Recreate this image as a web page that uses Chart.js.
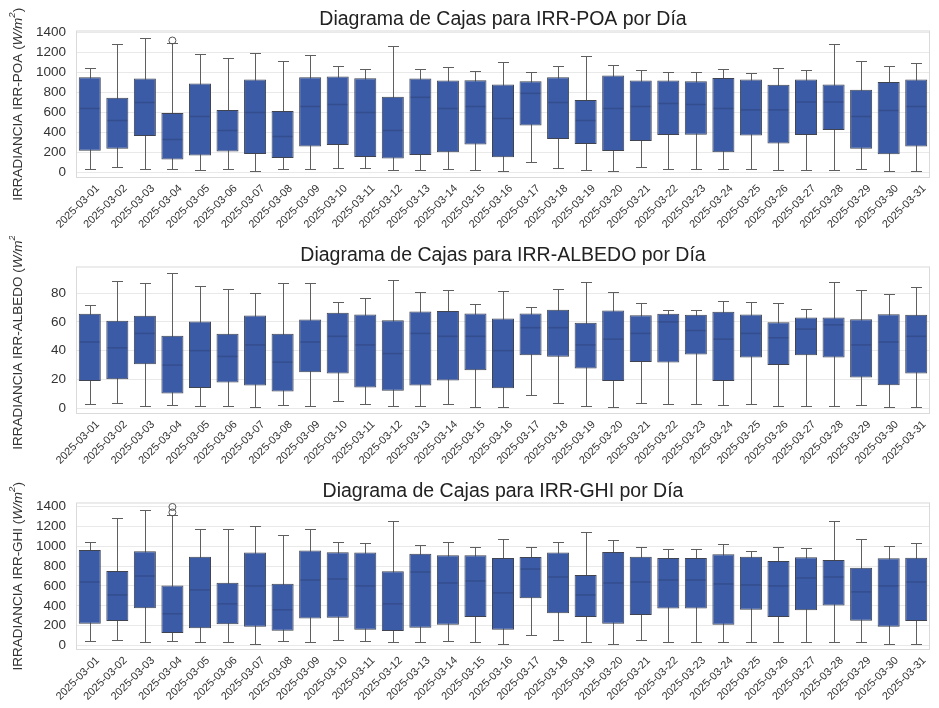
<!DOCTYPE html>
<html>
<head>
<meta charset="utf-8">
<script src="https://cdn.jsdelivr.net/npm/chart.js@4/dist/chart.umd.min.js"></script>
<style>
  body { margin: 0; background: #fff; }
  #wrap { position: relative; width: 939px; height: 708px; }
  canvas { position: absolute; left: 0; }
</style>
</head>
<body>
<div id="wrap">
  <canvas id="poa" width="939" height="236" style="top:0px"></canvas>
  <canvas id="albedo" width="939" height="236" style="top:236px"></canvas>
  <canvas id="ghi" width="939" height="236" style="top:472px"></canvas>
</div>
<script>
var days = [];
for (var d = 1; d <= 31; d++) days.push('2025-03-' + (d < 10 ? '0' + d : d));

// IRR-POA
var poaLow  = [40, 53, 37, 40, 30, 37, 20, 40, 33, 47, 43, 27, 27, 40, 27, 17, 106, 43, 30, 20, 53, 33, 33, 33, 33, 27, 27, 27, 33, 20, 20];
var poaQ1   = [218, 238, 364, 129, 169, 209, 185, 146, 261, 275, 156, 139, 176, 202, 281, 152, 470, 334, 285, 215, 315, 374, 377, 202, 370, 291, 374, 424, 238, 182, 261];
var poaMed  = [640, 520, 700, 330, 560, 420, 600, 360, 660, 680, 600, 420, 752, 640, 660, 540, 791, 700, 520, 640, 660, 690, 680, 640, 626, 626, 705, 705, 560, 620, 660];
var poaQ3   = [953, 748, 940, 596, 890, 626, 930, 616, 953, 960, 943, 758, 940, 920, 923, 881, 913, 953, 725, 970, 920, 920, 913, 946, 930, 877, 930, 881, 827, 906, 930];
var poaHigh = [1043, 1288, 1344, 1295, 1182, 1149, 1198, 1115, 1178, 1065, 1032, 1264, 1032, 1055, 1016, 1102, 1009, 1062, 1168, 1079, 1023, 1006, 1003, 1036, 996, 1043, 1023, 1284, 1119, 1065, 1092];
var poaOut  = [{x: '2025-03-04', y: 1320}];
var poaTicks = [0, 200, 400, 600, 800, 1000, 1200, 1400];

// IRR-ALBEDO
var albLow  = [2.8, 3.5, 1.9, 2.6, 1.4, 1.6, 0.9, 2.6, 1.9, 4.9, 2.8, 1.6, 1.9, 2.8, 1.2, 0.7, 9.0, 3.7, 1.6, 1.2, 3.5, 2.8, 2.8, 2.1, 3.0, 1.9, 1.9, 1.9, 2.3, 0.9, 0.9];
var albQ1   = [19.0, 20.2, 30.6, 10.2, 14.1, 17.9, 15.8, 11.6, 25.0, 24.1, 14.4, 12.1, 15.8, 19.2, 26.4, 13.9, 36.9, 35.7, 27.6, 19.0, 32.2, 31.8, 37.3, 19.0, 35.2, 30.1, 36.9, 35.2, 21.3, 16.0, 24.1];
var albMed  = [46, 42, 52, 30, 40, 36, 44, 32, 46, 50, 44, 38, 52, 50, 50, 40, 56, 56, 44, 48, 52, 60, 54, 48, 52, 49, 55, 58, 44, 46, 50];
var albQ3   = [65.6, 60.8, 64.2, 50.3, 60.3, 51.7, 64.5, 51.7, 61.7, 66.3, 65.2, 61.2, 67.2, 67.5, 65.9, 62.4, 65.9, 68.4, 59.4, 67.9, 64.7, 65.6, 64.9, 67.0, 65.2, 59.8, 63.1, 63.1, 61.9, 65.4, 64.9];
var albHigh = [71.9, 88.6, 87.2, 93.7, 85.1, 83.0, 79.8, 87.2, 87.2, 73.5, 76.5, 89.3, 80.9, 81.9, 72.1, 81.2, 70.5, 83.0, 87.9, 80.9, 73.0, 68.6, 68.6, 74.2, 73.7, 73.0, 68.9, 87.9, 82.3, 79.1, 84.1];
var albOut  = [];
var albTicks = [0, 20, 40, 60, 80];

// IRR-GHI
var ghiLow  = [41, 58, 34, 41, 31, 34, 20, 41, 34, 51, 41, 34, 31, 41, 31, 17, 102, 51, 31, 20, 58, 34, 34, 31, 34, 31, 31, 31, 34, 20, 20];
var ghiQ1   = [219, 246, 376, 126, 174, 215, 188, 150, 273, 280, 160, 147, 178, 208, 287, 160, 475, 324, 287, 219, 307, 372, 372, 208, 359, 287, 355, 403, 249, 188, 246];
var ghiMed  = [640, 510, 700, 320, 560, 420, 600, 360, 660, 670, 600, 420, 740, 630, 650, 530, 770, 690, 510, 630, 640, 660, 660, 620, 610, 600, 680, 690, 540, 600, 640];
var ghiQ3   = [963, 751, 949, 604, 895, 632, 936, 621, 956, 939, 936, 748, 925, 908, 908, 881, 891, 936, 710, 942, 895, 881, 881, 919, 895, 850, 888, 860, 782, 878, 884];
var ghiHigh = [1045, 1280, 1369, 1311, 1175, 1175, 1205, 1117, 1171, 1045, 1028, 1250, 1014, 1038, 997, 1072, 990, 1038, 1140, 1058, 997, 973, 970, 1021, 956, 997, 980, 1253, 1076, 1007, 1031];
var ghiOut  = [{x: '2025-03-04', y: 1340}, {x: '2025-03-04', y: 1395}];
var ghiTicks = [0, 200, 400, 600, 800, 1000, 1200, 1400];

Chart.defaults.font.family = "'Liberation Sans', Arial, sans-serif";
Chart.defaults.color = '#333';

// whiskers, medians and the frame round the plot area
var boxParts = {
  id: 'boxParts',
  beforeDatasetsDraw: function (chart, args, opts) {
    var ctx = chart.ctx, a = chart.chartArea, y = chart.scales.y;
    var meta = chart.getDatasetMeta(0);
    ctx.save();
    ctx.strokeStyle = '#dadada';
    ctx.lineWidth = 1;
    ctx.strokeRect(a.left + 0.5, a.top + 0.5, a.width - 1, a.height - 1);
    ctx.strokeStyle = '#5f5f5f';
    meta.data.forEach(function (bar, i) {
      var x = Math.round(bar.x) + 0.5, cap = bar.width / 4;
      var yl = Math.round(y.getPixelForValue(opts.low[i])) + 0.5;
      var yh = Math.round(y.getPixelForValue(opts.high[i])) + 0.5;
      ctx.beginPath();
      ctx.moveTo(x, yl); ctx.lineTo(x, yh);
      ctx.moveTo(x - cap, yl); ctx.lineTo(x + cap, yl);
      ctx.moveTo(x - cap, yh); ctx.lineTo(x + cap, yh);
      ctx.stroke();
    });
    ctx.restore();
  },
  afterDatasetsDraw: function (chart, args, opts) {
    var ctx = chart.ctx, y = chart.scales.y;
    var meta = chart.getDatasetMeta(0);
    ctx.save();
    ctx.strokeStyle = 'rgba(35, 45, 85, 0.3)';
    ctx.lineWidth = 1.5;
    meta.data.forEach(function (bar, i) {
      var ym = y.getPixelForValue(opts.med[i]);
      ctx.beginPath();
      ctx.moveTo(bar.x - bar.width / 2 + 1, ym);
      ctx.lineTo(bar.x + bar.width / 2 - 1, ym);
      ctx.stroke();
    });
    ctx.restore();
  }
};

// y axis title with italic unit
var yLabel = {
  id: 'yLabel',
  afterDraw: function (chart, args, opts) {
    var ctx = chart.ctx, a = chart.chartArea;
    var parts = [
      [opts.name + ' (', '13.5px', 0],
      ['W/m', 'italic 13.5px', 0],
      ['2', 'italic 9.5px', -5.5],
      [')', '13.5px', 0]
    ];
    var fam = " 'Liberation Sans', Arial, sans-serif";
    var total = 0;
    parts.forEach(function (p) { ctx.font = p[1] + fam; p.push(ctx.measureText(p[0]).width); total += p[3]; });
    ctx.save();
    ctx.translate(18, (a.top + a.bottom) / 2);
    ctx.rotate(-Math.PI / 2);
    ctx.fillStyle = '#333';
    ctx.textBaseline = 'middle';
    ctx.textAlign = 'left';
    var x = -total / 2;
    parts.forEach(function (p) {
      ctx.font = p[1] + fam;
      ctx.fillText(p[0], x, p[2]);
      x += p[3];
    });
    ctx.restore();
  }
};

function makePanel(id, title, name, low, q1, med, q3, high, out, yMin, yMax, ticks) {
  return new Chart(document.getElementById(id), {
    type: 'bar',
    data: {
      labels: days,
      datasets: [{
        data: days.map(function (d, i) { return [q1[i], q3[i]]; }),
        backgroundColor: '#3b5ba6',
        borderColor: '#3f4450',
        borderWidth: 1,
        borderSkipped: false,
        barPercentage: 0.8,
        categoryPercentage: 1.0
      }, {
        type: 'line',
        data: out,
        showLine: false,
        pointRadius: 3.5,
        pointBackgroundColor: 'rgba(0,0,0,0)',
        pointBorderColor: '#555',
        pointBorderWidth: 1
      }]
    },
    options: {
      responsive: false,
      animation: false,
      layout: { padding: { left: 0, right: 9, top: 0, bottom: 0 } },
      plugins: {
        legend: { display: false },
        tooltip: { enabled: false },
        title: {
          display: true,
          text: title,
          fullSize: false,
          color: '#222',
          font: { size: 19.5, weight: 'normal', lineHeight: 1.0 },
          padding: { top: 10, bottom: 1 }
        },
        boxParts: { low: low, med: med, high: high },
        yLabel: { name: name }
      },
      scales: {
        x: {
          grid: { display: false, drawTicks: false },
          border: { display: false },
          ticks: { autoSkip: false, maxRotation: 45, minRotation: 45, padding: 4, labelOffset: 8, color: '#333', font: { size: 11 } },
          afterFit: function (s) { s.height = 58; }
        },
        y: {
          min: yMin,
          max: yMax,
          grid: { color: '#e9e9e9', drawTicks: false },
          border: { display: false },
          ticks: {
            padding: 10, color: '#333', font: { size: 13.5 },
            callback: function (v) { return String(v); }
          },
          afterBuildTicks: function (axis) { axis.ticks = ticks.map(function (v) { return { value: v }; }); },
          afterFit: function (s) { s.width = 76; }
        }
      }
    },
    plugins: [boxParts, yLabel]
  });
}

makePanel('poa', 'Diagrama de Cajas para IRR-POA por Día', 'IRRADIANCIA IRR-POA',
  poaLow, poaQ1, poaMed, poaQ3, poaHigh, poaOut, -55, 1420, poaTicks);
makePanel('albedo', 'Diagrama de Cajas para IRR-ALBEDO por Día', 'IRRADIANCIA IRR-ALBEDO',
  albLow, albQ1, albMed, albQ3, albHigh, albOut, -4, 98.5, albTicks);
makePanel('ghi', 'Diagrama de Cajas para IRR-GHI por Día', 'IRRADIANCIA IRR-GHI',
  ghiLow, ghiQ1, ghiMed, ghiQ3, ghiHigh, ghiOut, -45, 1440, ghiTicks);
</script>
</body>
</html>
